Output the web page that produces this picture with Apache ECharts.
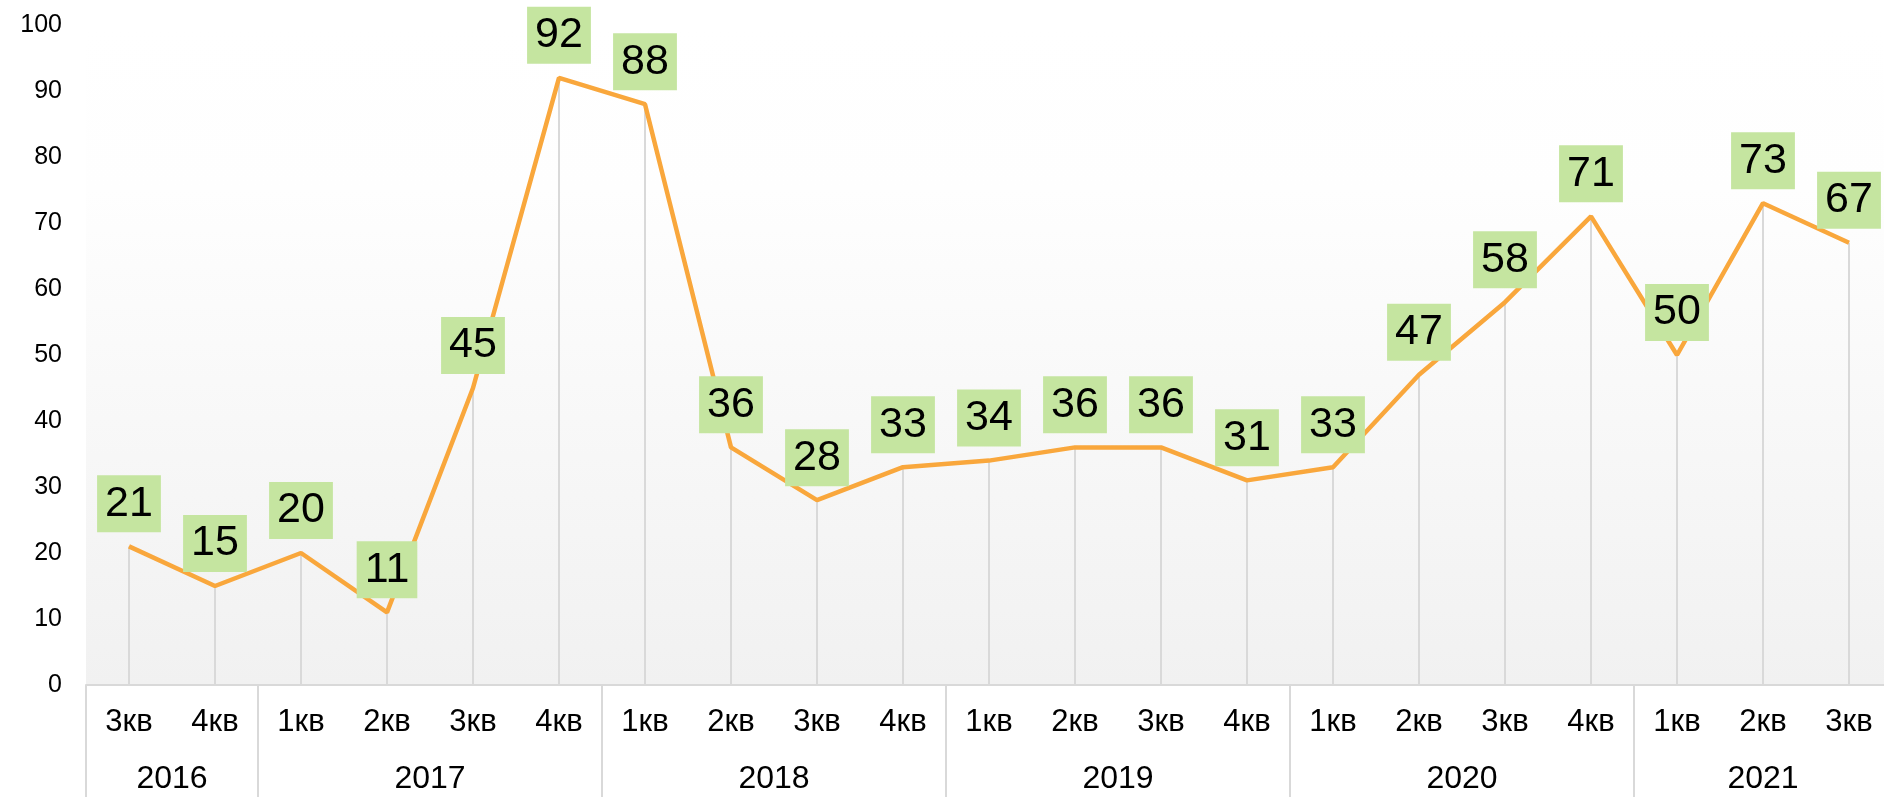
<!DOCTYPE html>
<html>
<head>
<meta charset="utf-8">
<script src="https://cdn.jsdelivr.net/npm/echarts@6/dist/echarts.min.js"></script>
<style>html,body{margin:0;padding:0;background:#fff}#c{width:1884px;height:797px}</style>
</head>
<body>
<div id="c"></div>
<script>
const quarters = ['3кв','4кв','1кв','2кв','3кв','4кв','1кв','2кв','3кв','4кв','1кв','2кв','3кв','4кв','1кв','2кв','3кв','4кв','1кв','2кв','3кв'];
const values = [21,15,20,11,45,92,88,36,28,33,34,36,36,31,33,47,58,71,50,73,67];
const years = ['2016','2017','2018','2019','2020','2021'];
const yearQuarterCounts = [2,4,4,4,4,3];

// Build half-quarter resolution axis for year groups (boundaryGap false)
const nPts = quarters.length * 2 + 1;
const yearAxisData = new Array(nPts).fill('');
const separators = new Set([0]);
let pos = 0;
years.forEach((y, i) => {
  const start = pos;
  pos += yearQuarterCounts[i] * 2;
  yearAxisData[(start + pos) / 2] = y;
  separators.add(pos);
});

const FONT = 'Liberation Sans, Arial, sans-serif';
const chart = echarts.init(document.getElementById('c'));
chart.setOption({
  animation: false,
  textStyle: { fontFamily: FONT },
  grid: {
    left: 86, width: 1806, top: 25, bottom: 112,
    containLabel: false,
    outerBoundsMode: 'none',
    show: true, borderWidth: 0,
    backgroundColor: new echarts.graphic.LinearGradient(0, 0, 0, 1, [
      { offset: 0, color: '#ffffff' },
      { offset: 0.25, color: '#fefefe' },
      { offset: 1, color: '#f1f1f1' }
    ])
  },
  xAxis: [
    {
      type: 'category',
      data: quarters,
      boundaryGap: true,
      axisLine: { show: true, lineStyle: { color: '#d9d9d9', width: 2 } },
      axisTick: { show: false },
      axisLabel: { interval: 0, margin: 22, color: '#000', fontSize: 31, fontFamily: FONT },
      splitLine: { show: false }
    },
    {
      type: 'category',
      data: yearAxisData,
      boundaryGap: false,
      position: 'bottom',
      axisLine: { show: false },
      axisTick: {
        show: true,
        length: 115,
        interval: (idx) => separators.has(idx),
        lineStyle: { color: '#d9d9d9', width: 2 }
      },
      axisLabel: { interval: 0, margin: 78, color: '#000', fontSize: 32, fontFamily: FONT },
      splitLine: { show: false }
    }
  ],
  yAxis: {
    type: 'value',
    min: 0, max: 100, interval: 10,
    axisLine: { show: false },
    axisTick: { show: false },
    splitLine: { show: false },
    axisLabel: { margin: 24, color: '#000', fontSize: 25, fontFamily: FONT }
  },
  series: [
    {
      type: 'bar',
      xAxisIndex: 0,
      data: values,
      barWidth: 2,
      itemStyle: { color: '#d9d9d9' },
      silent: true,
      z: 1
    },
    {
      type: 'line',
      xAxisIndex: 0,
      data: values,
      symbol: 'circle',
      symbolSize: 0.1,
      showSymbol: true,
      itemStyle: { color: '#f9a73c' },
      lineStyle: { color: '#f9a73c', width: 4.5 },
      z: 3,
      label: {
        show: true,
        position: 'top',
        distance: 14,
        color: '#000',
        fontSize: 43,
        fontFamily: FONT,
        backgroundColor: '#c5e5a0',
        lineHeight: 47,
        padding: [5, 8, 5, 8]
      }
    }
  ]
});
</script>
</body>
</html>
